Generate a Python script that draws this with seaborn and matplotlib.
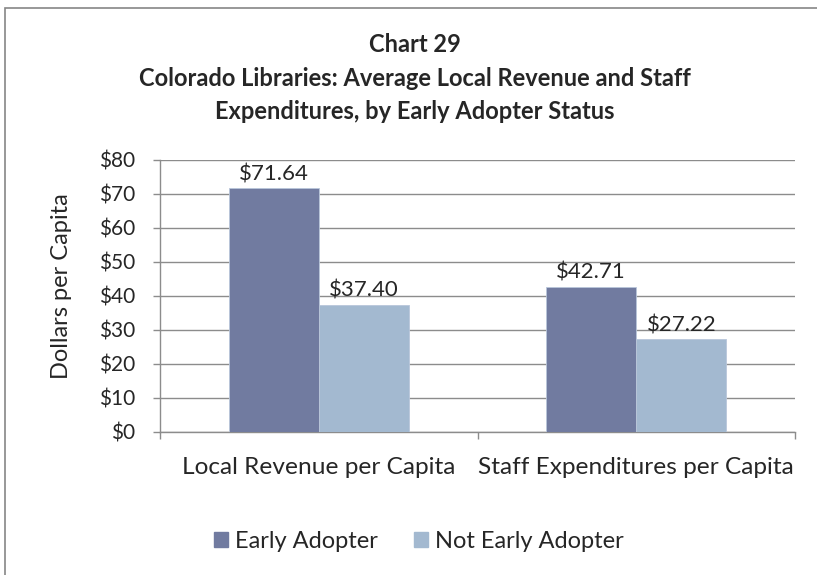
import pandas as pd
import matplotlib.pyplot as plt
import seaborn as sns
from matplotlib.patches import Rectangle

# Data
categories = ["Local Revenue per Capita", "Staff Expenditures per Capita"]
early_adopter = [71.64, 42.71]
not_early_adopter = [37.40, 27.22]
series_names = ["Early Adopter", "Not Early Adopter"]

df = pd.DataFrame({
    "Category": categories * 2,
    "Status": [series_names[0]] * 2 + [series_names[1]] * 2,
    "Value": early_adopter + not_early_adopter,
})

sns.set_style("white")
plt.rcParams["font.family"] = ["Lato", "DejaVu Sans"]

W, H = 817, 575
fig = plt.figure(figsize=(W / 100, H / 100), dpi=100)

# outer chart frame
fig.patches.append(Rectangle((5 / W, -0.1), 1.2, 1 - 8 / H + 0.1, transform=fig.transFigure,
                             fill=False, edgecolor="#868686", linewidth=1.2))

ax = fig.add_axes([160 / W, (H - 432) / H, (795 - 160) / W, (432 - 160) / H])

palette = {series_names[0]: "#717BA0", series_names[1]: "#A3B9D0"}
sns.barplot(data=df, x="Category", y="Value", hue="Status", palette=palette,
            width=0.568, saturation=1, ax=ax, legend=True, zorder=3,
            edgecolor="#B9C6DA", linewidth=0.6)

ax.set_ylim(0, 80)
ax.set_xlim(-0.5, 1.5)
ax.set_yticks(range(0, 81, 10))
ax.set_yticklabels([f"${v}" for v in range(0, 81, 10)], fontsize=15)
ax.yaxis.grid(True, color="#8C8C8C", linewidth=1, zorder=0)
ax.tick_params(axis="y", length=5, color="#8C8C8C", width=1, pad=13, direction="out", left=True)
ax.set_xticks([0, 1])
ax.set_xticklabels(categories, fontsize=17.6)
ax.tick_params(axis="x", which="major", length=0, pad=18)
ax.set_xticks([-0.5, 0.5, 1.5], minor=True)
ax.tick_params(axis="x", which="minor", length=5, color="#8C8C8C", width=1, bottom=True)
ax.set_xlabel("")
ax.set_ylabel("Dollars per Capita", fontsize=17)
ax.yaxis.set_label_coords((62 - 160) / 635, (432 - 286) / 272)
ax.yaxis.label.set_verticalalignment("center")
for side in ["top", "right"]:
    ax.spines[side].set_visible(False)
for side in ["left", "bottom"]:
    ax.spines[side].set_color("#8C8C8C")
    ax.spines[side].set_linewidth(1)

for cont in ax.containers:
    ax.bar_label(cont, labels=[f"${v:.2f}" for v in cont.datavalues], fontsize=16, padding=3)

ax.get_legend().remove()
handles = [Rectangle((0, 0), 1, 1, color=palette[n]) for n in series_names]
fig.legend(handles, series_names, loc="center", bbox_to_anchor=(419 / W, 1 - 541 / H),
           ncol=2, frameon=False, fontsize=17, handlelength=0.62, handleheight=0.62,
           handletextpad=0.3, columnspacing=1.5)

title_lines = ["Chart 29",
               "Colorado Libraries: Average Local Revenue and Staff",
               "Expenditures, by Early Adopter Status"]
for line, yy in zip(title_lines, [45, 79, 112]):
    fig.text(415 / W, 1 - yy / H, line, ha="center", va="center", fontsize=17, fontweight="bold")

fig.savefig("out.png", dpi=100)
